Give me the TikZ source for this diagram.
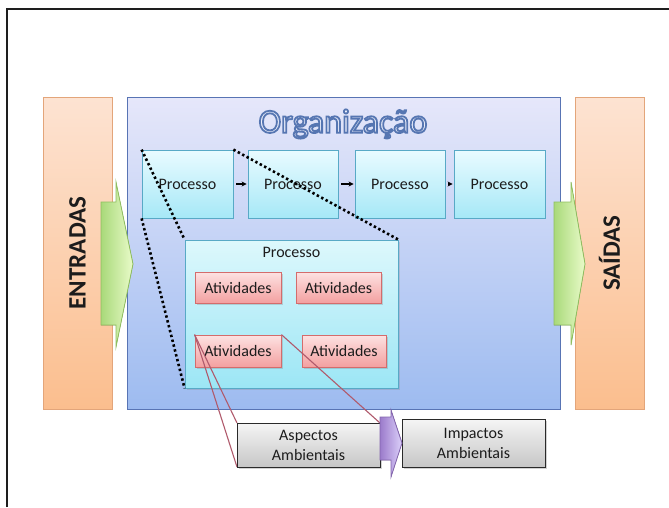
\documentclass[tikz,border=0pt]{standalone}
\usepackage{fontspec}
\setmainfont{Carlito}
\usetikzlibrary{shadows,arrows.meta}

% palette
\definecolor{frameC}{HTML}{1E1E1E}
\definecolor{peachTop}{HTML}{FDE3D2}
\definecolor{peachBot}{HTML}{FBBE8E}
\definecolor{peachLine}{HTML}{E3A57A}
\definecolor{orgTop}{HTML}{E6E7FA}
\definecolor{orgBot}{HTML}{9DBBF0}
\definecolor{orgLine}{HTML}{5874B4}
\definecolor{procTop}{HTML}{E9FBFF}
\definecolor{procBot}{HTML}{A6E8F7}
\definecolor{procLine}{HTML}{58A9C6}
\definecolor{bigTop}{HTML}{DDF8FC}
\definecolor{bigBot}{HTML}{9CE6F5}
\definecolor{pinkTop}{HTML}{FDE2E2}
\definecolor{pinkBot}{HTML}{F3A0A0}
\definecolor{pinkLine}{HTML}{D46C6C}
\definecolor{grayTop}{HTML}{F5F5F5}
\definecolor{grayBot}{HTML}{C6C6C6}
\definecolor{grayLine}{HTML}{2A2A2A}
\definecolor{greenL}{HTML}{A9D97A}
\definecolor{greenR}{HTML}{E9FBC9}
\definecolor{greenLine}{HTML}{8FBF5F}
\definecolor{purpL}{HTML}{9B7BCB}
\definecolor{purpR}{HTML}{DCD0FA}
\definecolor{purpLine}{HTML}{8466AE}
\definecolor{linkC}{HTML}{B05A6C}
\definecolor{titleFill}{HTML}{EEF1FD}
\definecolor{textC}{HTML}{1C1C1C}

% outlined lettering: fill with the current colour, stroke in dark blue
\newcommand{\outlined}[1]{%
  \special{pdf:literal direct 2 Tr 1.8 w 0.337 0.463 0.698 RG}#1\special{pdf:literal direct 0 Tr}}

\begin{document}
\begin{tikzpicture}[x=1pt,y=-1pt,
  basebox/.style={draw, inner sep=0pt, align=center, line width=0.8pt},
  sidebox/.style={basebox, draw=peachLine, top color=peachTop, bottom color=peachBot,
    minimum width=69pt, minimum height=312pt},
  sidetext/.style={rotate=90, text=textC, font=\fontsize{25}{28}\selectfont\bfseries},
  orgbox/.style={basebox, draw=orgLine, top color=orgTop, bottom color=orgBot,
    minimum width=433pt, minimum height=312pt},
  procbox/.style={basebox, draw=procLine, top color=procTop, bottom color=procBot,
    minimum height=68pt, font=\fontsize{16}{19}\selectfont, text=textC},
  bigproc/.style={basebox, draw=procLine, top color=bigTop, bottom color=bigBot,
    minimum width=213pt, minimum height=148pt,
    drop shadow={opacity=0.25, shadow xshift=2pt, shadow yshift=-2pt}},
  actbox/.style={basebox, draw=pinkLine, top color=pinkTop, bottom color=pinkBot,
    font=\fontsize{16}{19}\selectfont, text=textC,
    drop shadow={opacity=0.3, shadow xshift=1.5pt, shadow yshift=-1.5pt}},
  envbox/.style={basebox, draw=grayLine, line width=1pt, top color=grayTop, bottom color=grayBot,
    minimum width=143pt, font=\fontsize{16}{20}\selectfont, text=textC,
    drop shadow={opacity=0.35, shadow xshift=2pt, shadow yshift=-2pt}},
  flowarrow/.style={line width=1.3pt, -{Stealth[length=5pt,width=5pt]}, shorten <=3pt, shorten >=1pt},
  zoomline/.style={line width=2.6pt, dash pattern=on 2.4pt off 2.6pt, black},
  link/.style={linkC, line width=1.1pt},
  greenarrow/.style={draw=greenLine, line width=0.8pt, left color=greenL, right color=greenR},
  purparrow/.style={draw=purpLine, line width=0.8pt, left color=purpL, right color=purpR},
]

\useasboundingbox (0,0) rectangle (669,507);
\fill[white] (0,0) rectangle (669,507);

% page frame (top and left edges)
\draw[frameC, line width=2pt] (7,507) -- (7,9) -- (669,9);

% inputs, organisation and outputs
\node[sidebox] (ent) at (77.5,253) {};
\node[sidetext] at (ent.center) {ENTRADAS};
\node[orgbox] (org) at (343.5,253) {};
\node[sidebox] (sai) at (609.5,253) {};
\node[sidetext] at (sai.center) {SAÍDAS};

% outlined title
\node[text=titleFill, font=\fontsize{34}{36}\selectfont] (title) at (343,124) {\outlined{Organização}};

% process chain
\node[procbox, minimum width=91pt] (p1) at (187.5,184) {Processo};
\node[procbox, minimum width=90pt] (p2) at (293,184) {Processo};
\node[procbox, minimum width=90pt] (p3) at (400,184) {Processo};
\node[procbox, minimum width=91pt] (p4) at (499.5,184) {Processo};
\draw[flowarrow] (p1.east) -- (p2.west);
\draw[flowarrow] (p2.east) -- (p3.west);
\draw[flowarrow] (p3.east) -- (p4.west);

% detail of one process
\node[bigproc] (big) at (291.5,314) {};
\node[font=\fontsize{16}{19}\selectfont, text=textC] (bigtitle) at (291.5,252) {Processo};
\node[actbox, minimum width=86pt, minimum height=31pt] (a1) at (238,287.5) {Atividades};
\node[actbox, minimum width=85pt, minimum height=31pt] (a2) at (338.5,287.5) {Atividades};
\node[actbox, minimum width=86pt, minimum height=32pt] (a3) at (238,351) {Atividades};
\node[actbox, minimum width=84pt, minimum height=32pt] (a4) at (344,351) {Atividades};

% input and output arrows
\filldraw[greenarrow] (101,202) -- (116,202) -- (116,182) -- (133,264) -- (116,347)
  -- (116,325) -- (101,325) -- cycle;
\filldraw[greenarrow] (554,202) -- (571,202) -- (571,182) -- (585,264) -- (571,345)
  -- (571,325) -- (554,325) -- cycle;

% links from the activity to its aspects
\coordinate (aspNW) at (237,423);
\coordinate (aspSW) at (237,467);
\coordinate (aspNE) at (380,423);
\draw[link] (a3.north west) -- (aspNW);
\draw[link] (a3.north west) -- (aspSW);
\draw[link] (a3.north east) -- (aspNE);

% environmental aspects and impacts
\node[envbox, minimum height=44pt] (asp) at (308.5,445) {Aspectos\\Ambientais};
\node[envbox, minimum height=48pt] (imp) at (473.5,443) {Impactos\\Ambientais};
\filldraw[purparrow] (380,417) -- (391,417) -- (391,410) -- (402,443) -- (391,477)
  -- (391,460) -- (380,460) -- cycle;

% zoom guides from the first process to its detail
\draw[zoomline] (p1.north west) -- (big.north west);
\draw[zoomline] (p1.south west) -- (big.south west);
\draw[zoomline] (p1.north east) -- (big.north east);

\end{tikzpicture}
\end{document}
